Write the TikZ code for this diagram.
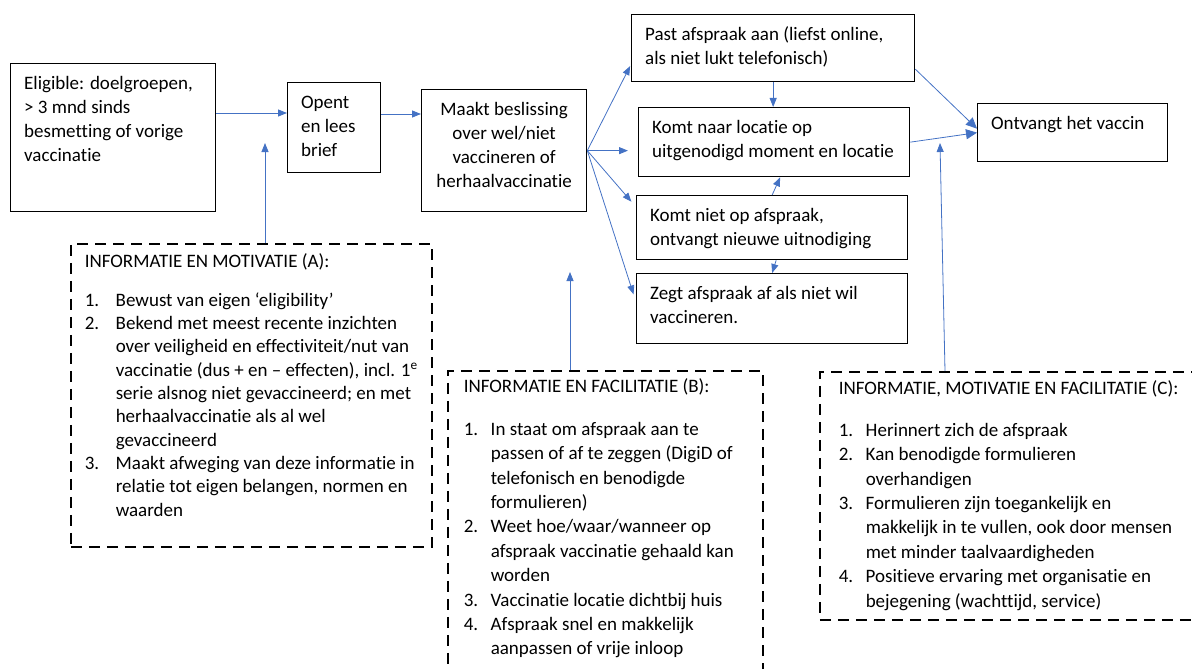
\documentclass[tikz,border=0pt]{standalone}
\usepackage{fontspec}
\setmainfont{Carlito}[Ligatures=NoCommon]
\usetikzlibrary{arrows.meta}

\definecolor{arrowblue}{HTML}{4472C4}

% text block with fixed inner size, lines set by hand
\newcommand{\boxtext}[3]{\parbox[c][#2pt][t]{#1pt}{\begin{tabular}[t]{@{}l@{}}#3\end{tabular}}}
\newcommand{\boxtextc}[3]{\parbox[c][#2pt][t]{#1pt}{\centering\begin{tabular}[t]{@{}c@{}}#3\end{tabular}}}
\newcommand{\nr}[2][27pt]{\makebox[#1][l]{#2}}

\begin{document}
\begin{tikzpicture}[x=1pt, y=-1pt,
    font=\fontsize{19}{24}\selectfont,
    flowbox/.style={draw, line width=1.3pt, anchor=north west,
        inner xsep=13.5pt, inner ysep=9pt},
    infobox/.style={draw, line width=1.5pt, dash pattern=on 11pt off 7pt,
        anchor=north west, inner ysep=7pt},
    arr/.style={arrowblue, line width=0.8pt, -{Triangle[length=9pt,width=7pt]}},
    bigarr/.style={arrowblue, line width=0.8pt, -{Triangle[length=11pt,width=10pt]}}]
\useasboundingbox (0,0) rectangle (1192,669);

% process boxes
\node[flowbox] (elig) at (10,63)
    {\boxtext{178}{130}{Eligible: doelgroepen,\\> 3 mnd sinds\\besmetting of vorige\\vaccinatie}};
\node[flowbox] (opent) at (287,82) {\boxtext{66}{72}{Opent\\en lees\\brief}};
\node[flowbox, inner xsep=9pt] (maakt) at (421,89)
    {\boxtextc{147}{104}{Maakt beslissing\\over wel/niet\\vaccineren of\\herhaalvaccinatie}};
\node[flowbox] (past) at (631,14)
    {\boxtext{256}{49}{Past afspraak aan (liefst online,\\als niet lukt telefonisch)}};
\node[flowbox] (naar) at (638,107)
    {\boxtext{244}{51}{Komt naar locatie op\\uitgenodigd moment en locatie}};
\node[flowbox] (niet) at (636,195)
    {\boxtext{244}{46}{Komt niet op afspraak,\\ontvangt nieuwe uitnodiging}};
\node[flowbox] (zegt) at (636,273)
    {\boxtext{244}{52}{Zegt afspraak af als niet wil\\vaccineren.}};
\node[flowbox] (ontv) at (977,103) {\boxtext{163}{40}{Ontvangt het vaccin}};

% dashed boxes with conditions
\node[infobox, inner xsep=14pt, font=\fontsize{19}{23.3}\selectfont] (infoA) at (70,243)
    {\boxtext{333}{289}{INFORMATIE EN MOTIVATIE (A):\\[16pt]
    \nr[31pt]{1.}Bewust van eigen ‘eligibility’\\
    \nr[31pt]{2.}Bekend met meest recente inzichten\\
    \nr[31pt]{}over veiligheid en effectiviteit/nut van\\
    \nr[31pt]{}vaccinatie (dus + en – effecten), incl. 1\textsuperscript{e}\\
    \nr[31pt]{}serie alsnog niet gevaccineerd; en met\\
    \nr[31pt]{}herhaalvaccinatie als al wel\\
    \nr[31pt]{}gevaccineerd\\
    \nr[31pt]{3.}Maakt afweging van deze informatie in\\
    \nr[31pt]{}relatie tot eigen belangen, normen en\\
    \nr[31pt]{}waarden}};
\node[infobox, inner xsep=16pt, inner ysep=5pt, font=\fontsize{19}{24.4}\selectfont] (infoB) at (447,370)
    {\boxtext{283}{320}{INFORMATIE EN FACILITATIE (B):\\[18pt]
    \nr{1.}In staat om afspraak aan te\\
    \nr{}passen of af te zeggen (DigiD of\\
    \nr{}telefonisch en benodigde\\
    \nr{}formulieren)\\
    \nr{2.}Weet hoe/waar/wanneer op\\
    \nr{}afspraak vaccinatie gehaald kan\\
    \nr{}worden\\
    \nr{3.}Vaccinatie locatie dichtbij huis\\
    \nr{4.}Afspraak snel en makkelijk\\
    \nr{}aanpassen of vrije inloop}};
\node[infobox, inner xsep=19pt, inner ysep=6pt, font=\fontsize{19}{24.4}\selectfont] (infoC) at (819,371)
    {\boxtext{380}{236}{INFORMATIE, MOTIVATIE EN FACILITATIE (C):\\[17pt]
    \nr{1.}Herinnert zich de afspraak\\
    \nr{2.}Kan benodigde formulieren\\
    \nr{}overhandigen\\
    \nr{3.}Formulieren zijn toegankelijk en\\
    \nr{}makkelijk in te vullen, ook door mensen\\
    \nr{}met minder taalvaardigheden\\
    \nr{4.}Positieve ervaring met organisatie en\\
    \nr{}bejegening (wachttijd, service)}};

% tips of the arrows that come up from the dashed boxes
\coordinate (aTip) at (265,143);
\coordinate (bTip) at (570,272);
\coordinate (cTip) at (940,143);

% connectors
\draw[arr] (elig.east |- 0,113) -- (opent.west |- 0,113);
\draw[arr] (opent.east |- 0,114) -- (maakt.west |- 0,114);
\draw[arr, shorten >=2pt] (maakt.east) -- ([yshift=18pt]past.south west);
\draw[arr, shorten >=10pt] (maakt.east) -- (naar.west |- maakt.east);
\draw[arr, shorten >=7pt] (maakt.east) -- ([yshift=-12pt]niet.north west);
\draw[arr, shorten >=8pt] (maakt.east) -- ([yshift=-29pt]zegt.north west);
\draw[arr] (past.south) -- (past.south |- naar.north);
\draw[arr] (niet.north) -- ([xshift=6pt]naar.south);
\draw[arr] ([xshift=4pt]niet.south) -- (zegt.north);
\draw[bigarr] ([yshift=-21pt]past.east) -- ([yshift=4pt]ontv.west);
\draw[bigarr] (naar.east) -- (ontv.west);
\draw[arr] (aTip |- infoA.north) -- (aTip);
\draw[arr] (bTip |- infoB.north) -- (bTip);
\draw[arr] ([xshift=5pt]cTip |- infoC.north) -- (cTip);
\end{tikzpicture}
\end{document}
